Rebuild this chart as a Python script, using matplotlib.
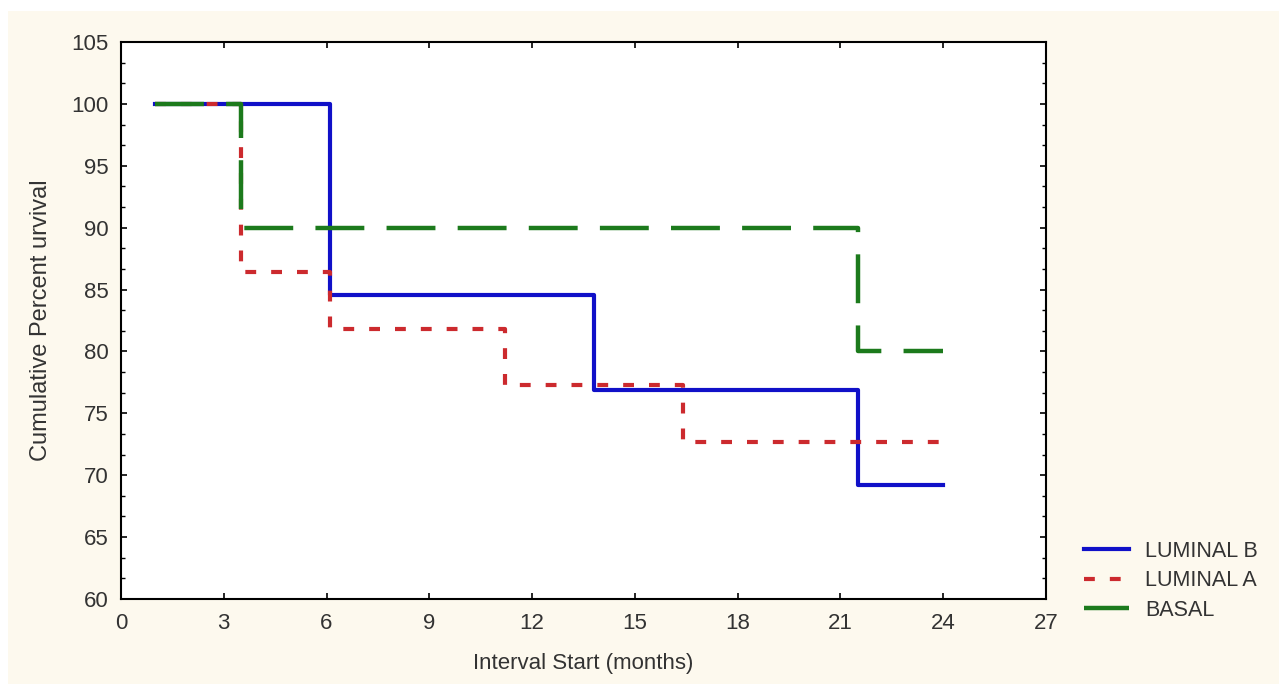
import matplotlib
matplotlib.use("Agg")
import matplotlib.pyplot as plt
from matplotlib.ticker import MultipleLocator
from matplotlib.patches import Rectangle

# Data (Kaplan-Meier style step curves)
lumb_t = [1, 6.1, 13.8, 21.5, 24]
lumb_s = [100, 84.6, 76.9, 69.2, 69.2]
luma_t = [1, 3.5, 6.1, 11.2, 16.4, 24]
luma_s = [100, 86.4, 81.8, 77.3, 72.7, 72.7]
basal_t = [1, 3.5, 21.5, 24]
basal_s = [100, 90, 80, 80]

labels = ["LUMINAL B", "LUMINAL A", "BASAL"]
xticks = [0, 3, 6, 9, 12, 15, 18, 21, 24, 27]
yticks = [60, 65, 70, 75, 80, 85, 90, 95, 100, 105]

plt.rcParams['font.family'] = ['Liberation Sans', 'DejaVu Sans']

fig = plt.figure(figsize=(12.79, 6.84), dpi=100, facecolor='white')
fig.patches.append(Rectangle((8/1279, 0), 1, 1 - 11/684, transform=fig.transFigure,
                             facecolor='#fdf9ee', edgecolor='none', zorder=-10))
ax = fig.add_axes([121/1279, 1 - 599/684, (1046-121)/1279, (599-42)/684])
ax.set_facecolor('white')

ax.step(lumb_t, lumb_s, where='post', color='#1010c8', lw=3.0, label=labels[0], zorder=3)
ax.step(luma_t, luma_s, where='post', color='#cc2a2e', lw=3.0, linestyle=(0, (2.6, 3.6)),
        label=labels[1], zorder=4)
ax.step(basal_t, basal_s, where='post', color='#1c7a1c', lw=3.2, linestyle=(0, (11, 5)),
        label=labels[2], zorder=5)

ax.set_xlim(0, 27)
ax.set_ylim(60, 105)
ax.set_xticks(xticks)
ax.set_yticks(yticks)
ax.yaxis.set_minor_locator(MultipleLocator(5/3))
ax.tick_params(which='both', direction='in', top=True, right=True, labelsize=16, color='black')
ax.tick_params(which='major', length=4, width=1.2)
ax.tick_params(which='minor', length=3, width=1.0)
ax.tick_params(axis='both', labelcolor='#333333')
ax.tick_params(axis='x', pad=10)
ax.tick_params(axis='y', pad=9)
for s in ax.spines.values():
    s.set_linewidth(1.5)
    s.set_color('black')

ax.set_xlabel("Interval Start (months)", fontsize=16, color='#333333', labelpad=14)
ax.set_ylabel("Cumulative Percent urvival", fontsize=17, color='#333333', labelpad=14)

leg = ax.legend(loc='lower left', bbox_to_anchor=(1.02, -0.074), frameon=False,
                fontsize=15.5, handlelength=2.1, labelspacing=0.4, handletextpad=0.75)
for t in leg.get_texts():
    t.set_color('#333333')

fig.savefig("out.png", dpi=100, facecolor=fig.get_facecolor())
